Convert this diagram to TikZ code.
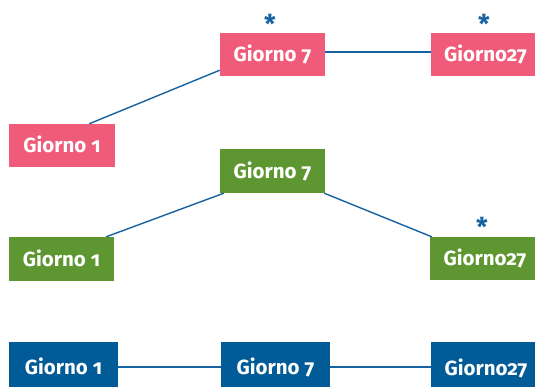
\documentclass[tikz,border=0pt]{standalone}
\usepackage{fontspec}
\setmainfont{Fira Sans}[Numbers=OldStyle]
\definecolor{pinkc}{HTML}{EF5B78}
\definecolor{greenc}{HTML}{5E9732}
\definecolor{bluec}{HTML}{005B96}
\definecolor{linec}{HTML}{1762A0}
\tikzset{
  box/.style={rectangle, inner sep=0pt, text=white, text height=14.4pt, text depth=0pt,
    font=\bfseries\fontsize{20.5}{20.5}\selectfont},
  conn/.style={draw=linec, line width=1.4pt},
  star/.style={text=linec, anchor=base, inner sep=0pt, font=\bfseries\fontsize{26}{26}\selectfont}
}
\begin{document}
\begin{tikzpicture}[x=1pt,y=-1pt]
\useasboundingbox (0,0) rectangle (535,387);
% pink row
\node[box,fill=pinkc,minimum width=106pt,minimum height=43pt] (p1) at (62,145.5) {Giorno 1};
\node[box,fill=pinkc,minimum width=105pt,minimum height=43pt] (p7) at (272.5,54.5) {Giorno 7};
\node[box,fill=pinkc,minimum width=109pt,minimum height=43pt] (p27) at (485.5,54.5) {Giorno27};
% green row
\node[box,fill=greenc,minimum width=105pt,minimum height=44pt] (g7) at (272.5,171) {Giorno 7};
\node[box,fill=greenc,minimum width=105pt,minimum height=44pt] (g1) at (61.5,259) {Giorno 1};
\node[box,fill=greenc,minimum width=110pt,minimum height=43pt] (g27) at (485,258.5) {Giorno27};
% blue row
\node[box,fill=bluec,minimum width=109pt,minimum height=50pt] (b1) at (63.5,367) {Giorno 1};
\node[box,fill=bluec,minimum width=109pt,minimum height=50pt] (b7) at (275.5,367) {Giorno 7};
\node[box,fill=bluec,minimum width=110pt,minimum height=52pt] (b27) at (486,368) {Giorno27};
% asterisks
\node[star] (s1) at (270,34) {*};
\node[star] (s2) at (484,34) {*};
\node[star] (s3) at (482,237) {*};
% connectors
\draw[conn] ([xshift=-26pt]p1.north east) -- ([yshift=6pt]p7.south west);
\draw[conn] ([yshift=2.5pt]p7.east) -- ([yshift=2.5pt]p27.west);
\draw[conn] ([xshift=-8pt]g1.north east) -- ([xshift=4pt]g7.south west);
\draw[conn] ([xshift=-1pt]g7.south east) -- ([xshift=2pt]g27.north west);
\draw[conn] (b1.east) -- (b7.west);
\draw[conn] (b7.east) -- (b7.east -| b27.west);
\end{tikzpicture}
\end{document}
